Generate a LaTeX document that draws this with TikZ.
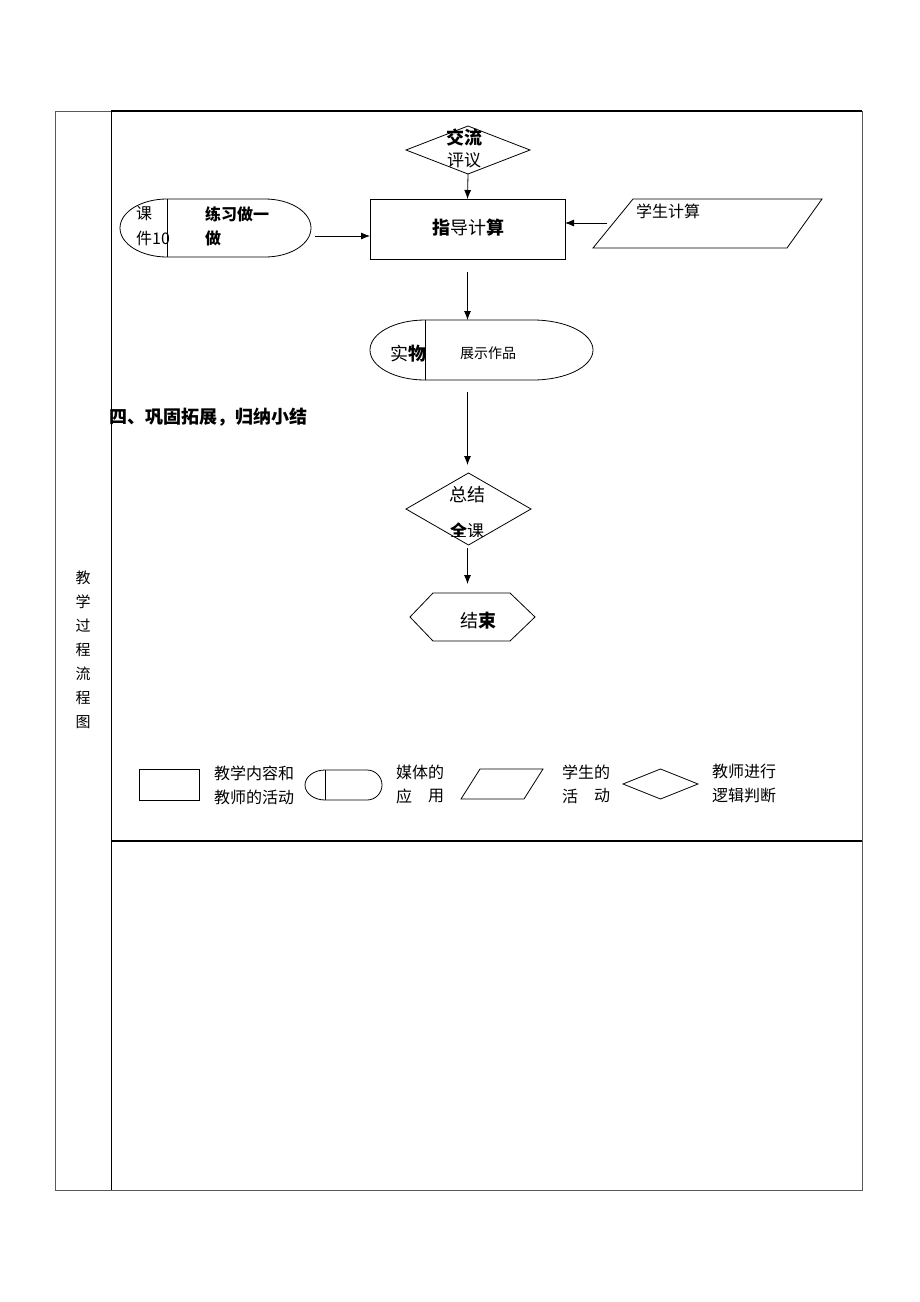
\documentclass[tikz,border=0pt]{standalone}
\usepackage{fontspec}
\setmainfont{Noto Sans CJK SC}
\usetikzlibrary{arrows.meta,shapes.geometric}
\begin{document}
\begin{tikzpicture}[x=1pt,y=-1pt,
  ln/.style={line width=0.8pt},
  thk/.style={line width=1.8pt},
  arr/.style={line width=0.8pt,-{Latex[length=9pt,width=7pt]}},
  holder/.style={inner sep=0pt,outer sep=0pt},
  txt/.style={inner sep=0pt,font=\fontsize{#1}{#1}\selectfont},
  txt/.default=16
]
\useasboundingbox (0,0) rectangle (920,1302);
\fill[white] (0,0) rectangle (920,1302);

% table frame
\draw[ln,gray!70!black] (55,111) rectangle (862,1190);
\draw[ln] (111,111) -- (111,1190);
\draw[thk] (111,111) -- (862,111);
\draw[thk] (111,841) -- (862,841);

% left column label
\foreach \c [count=\i from 0] in {教,学,过,程,流,程,图}
  \node[txt=15] (lc\i) at (83,578+24*\i) {\c};

% diamond 交流评议
\node[holder,draw,ln,shape=diamond,minimum width=124pt,minimum height=48pt] (jl) at (468,150) {};
\node[txt=18] (jlt1) at (464,138) {\bfseries 交流};
\node[txt=17] (jlt2) at (464,160) {评议};

% guide box
\node[holder,draw,ln,minimum width=195pt,minimum height=60pt] (zd) at (467.5,229) {};
\node[txt=18] (zdt) at (468,228) {\bfseries 指\mdseries 导计\bfseries 算};

% media shape 1
\node[holder,minimum width=191pt,minimum height=58pt] (kj) at (215.5,228) {};
\draw[ln] (167,199) arc[start angle=90,end angle=270,x radius=47pt,y radius=29pt]
  -- (265,257) arc[start angle=-90,end angle=90,x radius=46pt,y radius=29pt] -- cycle;
\draw[ln] (167,199) -- (167,257);
\node[txt,anchor=west] (kjt1) at (136,214) {课};
\node[txt,anchor=west] (kjt2) at (136,238) {件10};
\node[txt,anchor=west] (kjt3) at (205,214) {\bfseries 练习做一};
\node[txt,anchor=west] (kjt4) at (205,238) {\bfseries 做};
\coordinate (kjout) at (315,236);

% parallelogram 学生计算
\node[holder,minimum width=229pt,minimum height=49pt] (xs) at (707.5,223.5) {};
\draw[ln] (593,248) -- (633,199) -- (822,199) -- (787,248) -- cycle;
\node[txt,anchor=west] (xst) at (636,211) {学生计算};
\coordinate (xsin) at (607,223);

% media shape 2
\node[holder,minimum width=223pt,minimum height=60pt] (sw) at (481.5,350) {};
\draw[ln] (425,320) arc[start angle=90,end angle=270,x radius=55pt,y radius=30pt]
  -- (533,380) arc[start angle=-90,end angle=90,x radius=60pt,y radius=30pt] -- cycle;
\draw[ln] (425,320) -- (425,380);
\node[txt=18] (swt1) at (408,354) {实\bfseries 物};
\node[txt=14] (swt2) at (488,353) {展示作品};

% heading
\node[txt=18,anchor=west] (hd) at (109,417) {\bfseries 四、巩固拓展，归纳小结};

% diamond 总结全课
\node[holder,draw,ln,shape=diamond,minimum width=125pt,minimum height=72pt] (zj) at (468.5,509) {};
\node[txt=18] (zjt1) at (467,495) {总结};
\begin{scope}
  \clip (430,518) rectangle (505,536);
  \node[txt=17] (zjt2) at (467,531) {\bfseries 全\mdseries 课};
\end{scope}

% hexagon 结束
\node[holder,minimum width=125pt,minimum height=48pt] (js) at (472.5,617) {};
\draw[ln] (410,617) -- (433,593) -- (510,593) -- (535,617) -- (510,641) -- (433,641) -- cycle;
\node[txt=18] (jst) at (478,621) {结\bfseries 束};

% connectors
\draw[arr] (jl.south) -- (zd.north);
\draw[arr] (kjout) -- (zd.west |- kjout);
\draw[arr] (xsin) -- (zd.east |- xsin);
\draw[arr,shorten <=13pt] (zd.south) -- (zd.south |- sw.north);
\draw[arr,shorten <=12pt,shorten >=8pt] (zd.south |- sw.south) -- (zd.south |- zj.north);
\draw[arr,shorten <=3pt,shorten >=9pt] (zd.south |- zj.south) -- (zd.south |- js.north);

% legend
\node[holder,draw,ln,minimum width=60pt,minimum height=31pt] (lg1) at (169,784.5) {};
\node[txt,anchor=west] (lg1a) at (214,773) {教学内容和};
\node[txt,anchor=west] (lg1b) at (214,797) {教师的活动};
\draw[ln] (325,770) arc[start angle=90,end angle=270,x radius=20pt,y radius=15pt]
  -- (367,800) arc[start angle=-90,end angle=90,x radius=15pt,y radius=15pt] -- cycle;
\draw[ln] (325,770) -- (325,800);
\node[txt,anchor=west] (lg2a) at (396,772) {媒体的};
\node[txt,anchor=west] (lg2b) at (396,796) {应};
\node[txt,anchor=west] (lg2c) at (428,796) {用};
\draw[ln] (461,799) -- (480,769) -- (543,769) -- (524,799) -- cycle;
\node[txt,anchor=west] (lg3a) at (562,772) {学生的};
\node[txt,anchor=west] (lg3b) at (562,796) {活};
\node[txt,anchor=west] (lg3c) at (594,796) {动};
\node[holder,draw,ln,shape=diamond,minimum width=75pt,minimum height=30pt] (lg4) at (660.5,784) {};
\node[txt,anchor=west] (lg4a) at (712,771) {教师进行};
\node[txt,anchor=west] (lg4b) at (712,795) {逻辑判断};
\end{tikzpicture}
\end{document}
